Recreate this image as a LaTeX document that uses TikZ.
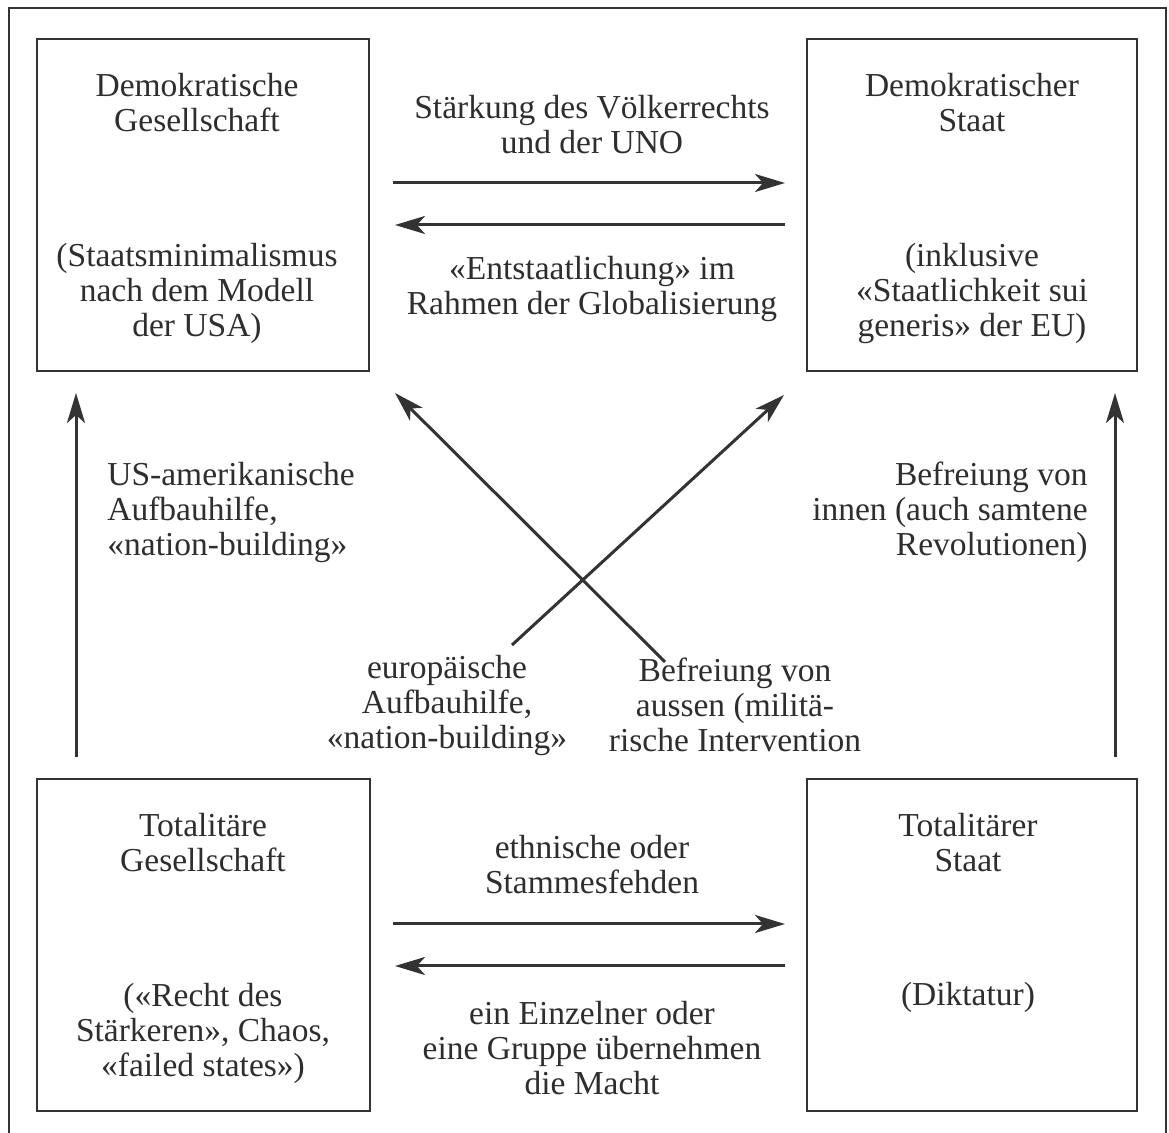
\documentclass[tikz,border=0pt]{standalone}
\usepackage{fontspec}
\setmainfont{Liberation Serif}
\usetikzlibrary{arrows.meta}
\definecolor{ink}{HTML}{333333}
\definecolor{txt}{HTML}{2E2E2E}
\begin{document}
\begin{tikzpicture}[x=0.5pt,y=-0.5pt,
  frame/.style={draw=ink, line width=0.8pt},
  box/.style={draw=ink, line width=1pt, inner sep=0pt},
  lbl/.style={text=txt, font=\fontsize{16.75}{17.5}\selectfont, align=center, inner sep=0pt},
  arr/.style={draw=ink, line width=1.5pt, -{Stealth[length=15pt,width=9pt,inset=4pt]}}]
\useasboundingbox (0,0) rectangle (1169,1133);
\fill[white] (0,0) rectangle (1169,1133);
\draw[frame] (9,1135) |- (1166,8) -- (1166,1135);

% boxes
\node[box, minimum width=166pt, minimum height=166pt] (tl) at (203,205) {};
\node[box, minimum width=165pt, minimum height=166pt] (tr) at (972,205) {};
\node[box, minimum width=166.5pt, minimum height=166pt] (bl) at (203.5,945) {};
\node[box, minimum width=165pt, minimum height=166pt] (br) at (972,945) {};

% box texts
\node[lbl] (tlT) at (197,103) {Demokratische\\Gesellschaft};
\node[lbl] (tlB) at (197,293) {(Staatsminimalismus\\nach dem Modell\\der USA)};
\node[lbl] (trT) at (972,103) {Demokratischer\\Staat};
\node[lbl] (trB) at (972,293) {(inklusive\\«Staatlichkeit sui\\generis» der EU)};
\node[lbl] (blT) at (203,843) {Totalitäre\\Gesellschaft};
\node[lbl] (blB) at (203,1033) {(«Recht des\\Stärkeren», Chaos,\\«failed states»)};
\node[lbl] (brT) at (968,843) {Totalitärer\\Staat};
\node[lbl] (brB) at (968,997) {(Diktatur)};

% connector labels
\node[lbl] (topA) at (592,125) {Stärkung des Völkerrechts\\und der UNO};
\node[lbl] (topB) at (592,289) {«Entstaatlichung» im\\Rahmen der Globalisierung};
\node[lbl, align=left, anchor=west] (leftM) at (107,512) {US-amerikanische\\Aufbauhilfe,\\«nation-building»};
\node[lbl, align=right, anchor=east] (rightM) at (1088,512) {Befreiung von\\innen (auch samtene\\Revolutionen)};
\node[lbl] (midL) at (447,705) {europäische\\Aufbauhilfe,\\«nation-building»};
\node[lbl] (midR) at (735,705) {Befreiung von\\aussen (militä-\\rische Intervention};
\node[lbl] (botA) at (592,865) {ethnische oder\\Stammesfehden};
\node[lbl] (botB) at (592,1048) {ein Einzelner oder\\eine Gruppe übernehmen\\die Macht};

% connector end points
\coordinate (h1s) at (393,183);  \coordinate (h1e) at (785,183);
\coordinate (h2s) at (785,225);  \coordinate (h2e) at (395,225);
\coordinate (h3s) at (393,924);  \coordinate (h3e) at (785,924);
\coordinate (h4s) at (785,966);  \coordinate (h4e) at (395,966);
\coordinate (v1s) at (76,757);   \coordinate (v1e) at (76,393);
\coordinate (v2s) at (1115,757); \coordinate (v2e) at (1115,393);
\coordinate (d1s) at (665,662);  \coordinate (d1e) at (395,393);
\coordinate (d2s) at (512,645);  \coordinate (d2e) at (784,395);

\draw[arr] (h1s) -- (h1e);
\draw[arr] (h2s) -- (h2e);
\draw[arr] (h3s) -- (h3e);
\draw[arr] (h4s) -- (h4e);
\draw[arr] (v1s) -- (v1e);
\draw[arr] (v2s) -- (v2e);
\draw[arr] (d1s) -- (d1e);
\draw[arr] (d2s) -- (d2e);
\end{tikzpicture}
\end{document}
